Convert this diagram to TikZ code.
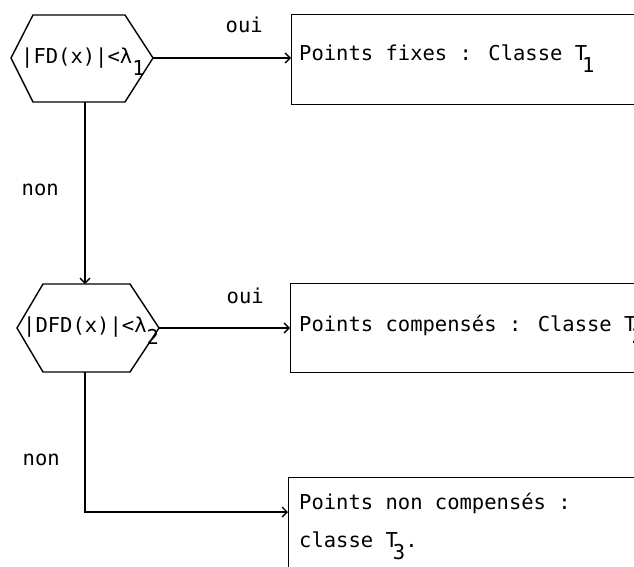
\documentclass[tikz,border=0pt]{standalone}
\usepackage{fontspec}
\newfontfamily\tw{DejaVu Sans Mono}
\usetikzlibrary{arrows.meta}
% typewriter-style subscript: a full-size character dropped half a line
\newcommand\lowsub[1]{\raisebox{-12pt}{#1}}

\begin{document}
\begin{tikzpicture}[x=1pt,y=-1pt,
  line/.style={line width=1.4pt, line join=miter},
  flow/.style={line, -{Straight Barb[length=5pt,width=10pt,line width=1.3pt]}},
  txt/.style={inner sep=0pt, anchor=base west, font=\tw\fontsize{20.5}{24}\selectfont},
  boxst/.style={line, draw, rectangle, inner sep=0pt, anchor=north west},
]
\useasboundingbox (0,0) rectangle (634,567);
\fill[white] (0,0) rectangle (634,567);
\clip (0,0) rectangle (634,567);

% first test
\coordinate (d1w) at (11,58);
\coordinate (d1nw) at (33,15);
\coordinate (d1ne) at (125,15);
\coordinate (d1e) at (153,58);
\coordinate (d1se) at (125,102);
\coordinate (d1sw) at (33,102);
\coordinate (d1s) at (85,102);
\draw[line] (d1w) -- (d1nw) -- (d1ne) -- (d1e) -- (d1se) -- (d1sw) -- cycle;
\node[txt] (t1) at (21,64) {|FD(x)|<λ\lowsub{1}};

% second test
\coordinate (d2w) at (17,328);
\coordinate (d2nw) at (43,284);
\coordinate (d2ne) at (130,284);
\coordinate (d2e) at (159,328);
\coordinate (d2se) at (130,372);
\coordinate (d2sw) at (43,372);
\coordinate (d2n) at (85,284);
\coordinate (d2s) at (85,372);
\draw[line] (d2w) -- (d2nw) -- (d2ne) -- (d2e) -- (d2se) -- (d2sw) -- cycle;
\node[txt] (t2) at (23,332) {|DFD(x)|<λ\lowsub{2}};

% result boxes (running off the right edge)
\node[boxst, minimum width=420pt, minimum height=90pt] (b1) at (291,14) {};
\node[boxst, minimum width=420pt, minimum height=89pt] (b2) at (290,283) {};
\node[boxst, minimum width=420pt, minimum height=140pt] (b3) at (288,477) {};

\node[txt] (l1) at (299,61) {Points fixes : Classe T\kern-5pt\lowsub{1}};
\node[txt] (l2) at (299,331) {Points compensés : Classe T\kern-5pt\lowsub{2}};
\node[txt] (l3a) at (299,509) {Points non compensés :};
\node[txt] (l3b) at (299,547) {classe T\kern-5pt\lowsub{3}.};

% connectors
\coordinate (b3in) at (b3.north west |- 0,512);
\draw[flow] (d1e) -- (d1e -| b1.west);
\draw[flow] (d1s) -- (d2n);
\draw[flow] (d2e) -- (d2e -| b2.west);
\draw[flow] (d2s) |- (b3in);

% branch labels
\node[txt] (oui1) at (225.5,33) {oui};
\node[txt] (non1) at (21.5,195) {non};
\node[txt] (oui2) at (226.5,303) {oui};
\node[txt] (non2) at (22.5,465) {non};
\end{tikzpicture}
\end{document}
